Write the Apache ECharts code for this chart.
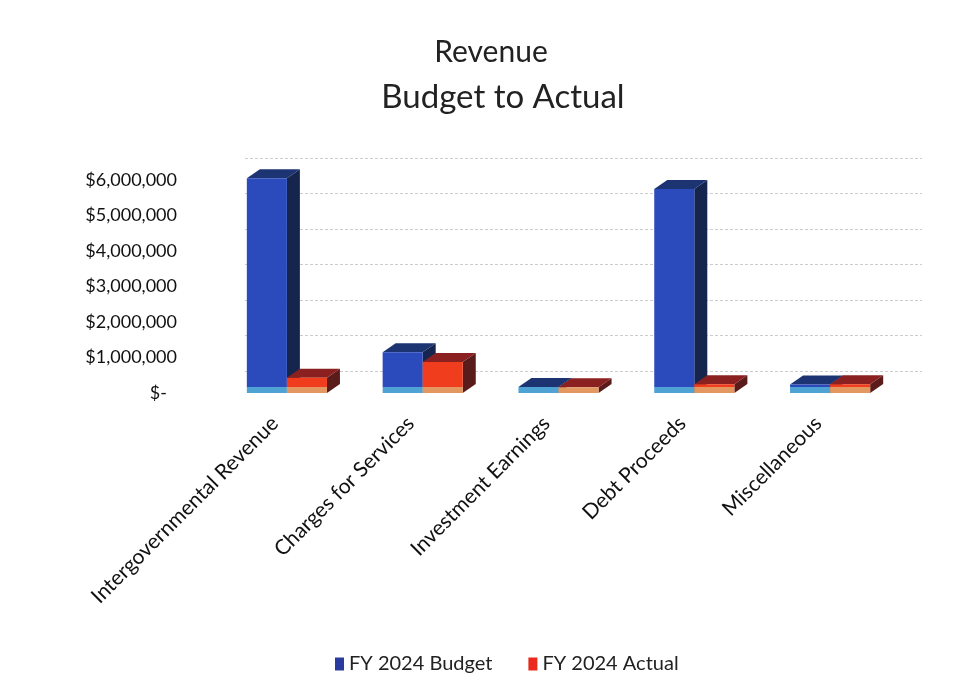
<!DOCTYPE html>
<html>
<head>
<meta charset="utf-8">
<script src="https://cdn.jsdelivr.net/npm/echarts@6/dist/echarts.min.js"></script>
<style>
  html, body { margin: 0; padding: 0; background: #ffffff; }
  #chart { width: 978px; height: 698px; }
</style>
</head>
<body>
<div id="chart"></div>
<script>
// Revenue categories and the two series (US dollars)
const categories = ['Intergovernmental Revenue', 'Charges for Services', 'Investment Earnings', 'Debt Proceeds', 'Miscellaneous'];
const budget = [6050000, 1150000, 170000, 5750000, 240000];
const actual = [430000, 870000, 160000, 250000, 250000];
const seriesNames = ['FY 2024 Budget', 'FY 2024 Actual'];
const yMin = 0;
const yMax = 6000000;
const yStep = 1000000;

const FONT = 'Lato, "Open Sans", sans-serif';

// Face colours for each block (front, lighter foot band, right side, top)
const faces = [
  { front: '#2b4bbd', base: '#4fa3d4', side: '#16254d', top: '#1d3473', legend: '#2b3a9e' },
  { front: '#f03d1d', base: '#e39862', side: '#5a1b1b', top: '#8a2020', legend: '#ea2a1c' }
];

function money(v) {
  if (v === 0) return '{z|$-}';
  return '$' + v.toLocaleString('en-US');
}

// Draws one block as a pseudo-3D cuboid: front face, right side and top
function cuboid(idx) {
  const f = faces[idx];
  return function (params, api) {
    const i = api.value(0);
    const v = api.value(1);
    const top = api.coord([i, v]);
    const base = api.coord([i, 0]);
    const band = api.size([1, 0])[0];
    const bw = band * 0.295;
    const x0 = idx === 0 ? top[0] - bw : top[0];
    const x1 = x0 + bw;
    const yT = top[1];
    const yB = base[1];
    const dx = 13, dy = -9;
    const foot = Math.min(6, yB - yT);
    return {
      type: 'group',
      children: [
        { type: 'polygon', shape: { points: [[x1, yB], [x1 + dx, yB + dy], [x1 + dx, yT + dy], [x1, yT]] }, style: { fill: f.side } },
        { type: 'polygon', shape: { points: [[x0, yT], [x1, yT], [x1 + dx, yT + dy], [x0 + dx, yT + dy]] }, style: { fill: f.top } },
        { type: 'rect', shape: { x: x0, y: yT, width: bw, height: Math.max(0, yB - yT - foot) }, style: { fill: f.front } },
        { type: 'rect', shape: { x: x0, y: yB - foot, width: bw, height: foot }, style: { fill: f.base } }
      ]
    };
  };
}

const chart = echarts.init(document.getElementById('chart'), null, { renderer: 'canvas' });

chart.setOption({
  backgroundColor: '#ffffff',
  animation: false,
  graphic: [
    { type: 'text', x: 491, y: 52, style: { text: 'Revenue', font: '30px ' + FONT, fill: '#222222', align: 'center', verticalAlign: 'middle' } },
    { type: 'text', x: 503, y: 97, style: { text: 'Budget to Actual', font: '33px ' + FONT, fill: '#222222', align: 'center', verticalAlign: 'middle' } }
  ],
  legend: {
    data: seriesNames,
    left: 330,
    top: 649,
    icon: 'rect',
    itemWidth: 9,
    itemHeight: 13,
    itemGap: 36,
    textStyle: { fontFamily: FONT, fontSize: 20, color: '#222222' }
  },
  grid: [
    // front plane: bars and value labels
    { left: 219, right: 80, top: 180, bottom: 305 },
    // back wall: gridlines
    { left: 245, right: 56, top: 158, bottom: 327 },
    // category labels, set slightly left of the bar fronts
    { left: 207, right: 92, top: 180, bottom: 305 }
  ],
  xAxis: [
    {
      gridIndex: 0,
      type: 'category',
      data: categories,
      axisLine: { show: false },
      axisTick: { show: false },
      axisLabel: { show: false }
    },
    {
      gridIndex: 1,
      type: 'category',
      data: categories,
      show: false
    },
    {
      gridIndex: 2,
      type: 'category',
      data: categories,
      axisLine: { show: false },
      axisTick: { show: false },
      axisLabel: {
        rotate: 45,
        margin: 27,
        interval: 0,
        fontFamily: FONT,
        fontSize: 21,
        color: '#111111'
      }
    }
  ],
  yAxis: [
    {
      gridIndex: 0,
      type: 'value',
      min: yMin,
      max: yMax,
      interval: yStep,
      axisLine: { show: false },
      axisTick: { show: false },
      splitLine: { show: false },
      axisLabel: {
        margin: 42,
        fontFamily: FONT,
        fontSize: 18,
        color: '#111111',
        formatter: money,
        rich: { z: { fontFamily: FONT, fontSize: 18, color: '#111111', padding: [0, 10, 0, 0] } }
      }
    },
    {
      gridIndex: 1,
      type: 'value',
      min: yMin,
      max: yMax,
      interval: yStep,
      axisLine: { show: false },
      axisTick: { show: false },
      axisLabel: { show: false },
      splitLine: { show: true, lineStyle: { color: '#cccccc', width: 1, type: [3, 2] } }
    },
    {
      gridIndex: 2,
      type: 'value',
      min: yMin,
      max: yMax,
      show: false
    }
  ],
  series: [
    {
      name: seriesNames[0],
      type: 'custom',
      xAxisIndex: 0,
      yAxisIndex: 0,
      itemStyle: { color: faces[0].legend },
      renderItem: cuboid(0),
      encode: { x: 0, y: 1 },
      data: budget.map((v, i) => [i, v])
    },
    {
      name: seriesNames[1],
      type: 'custom',
      xAxisIndex: 0,
      yAxisIndex: 0,
      itemStyle: { color: faces[1].legend },
      renderItem: cuboid(1),
      encode: { x: 0, y: 1 },
      data: actual.map((v, i) => [i, v])
    }
  ]
});
</script>
</body>
</html>
